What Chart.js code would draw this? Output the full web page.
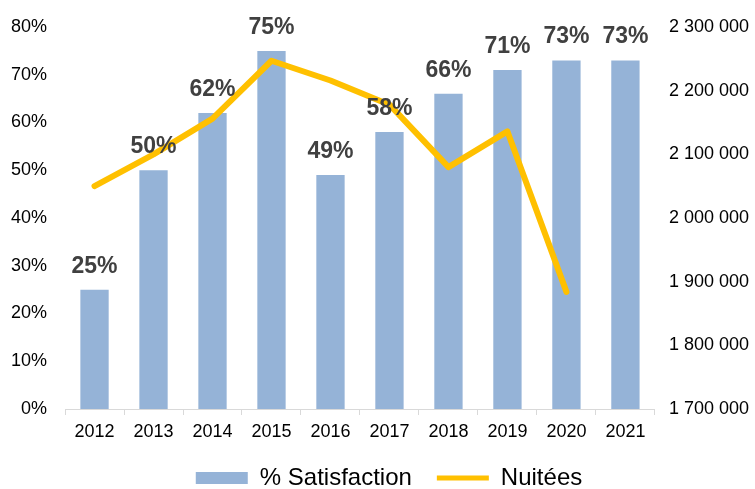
<!DOCTYPE html>
<html>
<head>
<meta charset="utf-8">
<script src="https://cdn.jsdelivr.net/npm/chart.js@4/dist/chart.umd.min.js"></script>
<style>
  html, body { margin: 0; padding: 0; background: #fff; }
  #wrap { width: 755px; height: 489px; }
</style>
</head>
<body>
<div id="wrap"><canvas id="chart" width="755" height="489"></canvas></div>
<script>
var years = ["2012", "2013", "2014", "2015", "2016", "2017", "2018", "2019", "2020", "2021"];
var satisfaction = [25, 50, 62, 75, 49, 58, 66, 71, 73, 73];
var nuitees = [2050000, 2100000, 2156000, 2247000, 2216000, 2178000, 2080000, 2136000, 1884000, null];

var tickFont = { family: "Liberation Sans, Arial, sans-serif", size: 18 };

// draws the bold % labels above each bar
var barLabels = {
    id: 'barLabels',
    afterDatasetsDraw: function(chart) {
        var ctx = chart.ctx;
        var meta = chart.getDatasetMeta(1);
        ctx.save();
        ctx.font = "bold 23px Liberation Sans, Arial, sans-serif";
        ctx.fillStyle = "#404040";
        ctx.textAlign = "center";
        ctx.textBaseline = "alphabetic";
        meta.data.forEach(function(bar, i) {
            ctx.fillText(satisfaction[i] + "%", bar.x, bar.y - 17);
        });
        ctx.restore();
    }
};

// legend sits a bit right of centre in the original
var legendShift = {
    id: 'legendShift',
    afterLayout: function(chart) {
        chart.legend.left += 11;
        chart.legend.right += 11;
    }
};

function spaced(v) {
    return String(v).replace(/\B(?=(\d{3})+(?!\d))/g, " ");
}

new Chart(document.getElementById("chart"), {
    type: 'bar',
    data: {
        labels: years,
        datasets: [
            {
                type: 'line',
                label: 'Nuitées',
                data: nuitees,
                yAxisID: 'y2',
                borderColor: '#FFC000',
                backgroundColor: '#FFC000',
                borderWidth: 6,
                pointRadius: 0,
                tension: 0,
                borderCapStyle: 'round',
                borderJoinStyle: 'round',
                order: 0
            },
            {
                label: '% Satisfaction',
                data: satisfaction,
                yAxisID: 'y',
                backgroundColor: '#95B3D7',
                borderWidth: 0,
                categoryPercentage: 1,
                barPercentage: 0.48,
                order: 1
            }
        ]
    },
    options: {
        responsive: false,
        animation: false,
        layout: { padding: { top: 27, left: 1, right: 0, bottom: -11 } },
        plugins: {
            tooltip: { enabled: false },
            legend: {
                position: 'bottom',
                reverse: true,
                labels: {
                    font: { family: "Liberation Sans, Arial, sans-serif", size: 24, lineHeight: 1 },
                    color: '#000',
                    usePointStyle: true,
                    pointStyleWidth: 52,
                    boxHeight: 12,
                    padding: 25,
                    generateLabels: function(chart) {
                        var items = Chart.defaults.plugins.legend.labels.generateLabels(chart);
                        items.forEach(function(it) {
                            if (it.datasetIndex === 0) {
                                it.pointStyle = 'line';
                                it.lineWidth = 5;
                                it.strokeStyle = '#FFC000';
                            } else {
                                it.pointStyle = 'rect';
                                it.lineWidth = 0;
                            }
                        });
                        return items;
                    }
                }
            }
        },
        scales: {
            x: {
                grid: { drawOnChartArea: false, color: '#D9D9D9', tickLength: 6, offset: true },
                border: { color: '#D9D9D9' },
                ticks: { font: tickFont, color: '#000', padding: 6 },
                afterFit: function(axis) { axis.height = 32; }
            },
            y: {
                position: 'left',
                min: 0,
                max: 80,
                grid: { display: false },
                border: { display: false },
                ticks: {
                    stepSize: 10,
                    font: tickFont,
                    color: '#000',
                    padding: 10,
                    callback: function(v) { return v + "%"; }
                }
            },
            y2: {
                position: 'right',
                min: 1700000,
                max: 2300000,
                grid: { display: false },
                border: { display: false },
                ticks: {
                    stepSize: 100000,
                    font: tickFont,
                    color: '#000',
                    padding: 6,
                    callback: function(v) { return spaced(v); }
                }
            }
        }
    },
    plugins: [barLabels, legendShift]
});
</script>
</body>
</html>
